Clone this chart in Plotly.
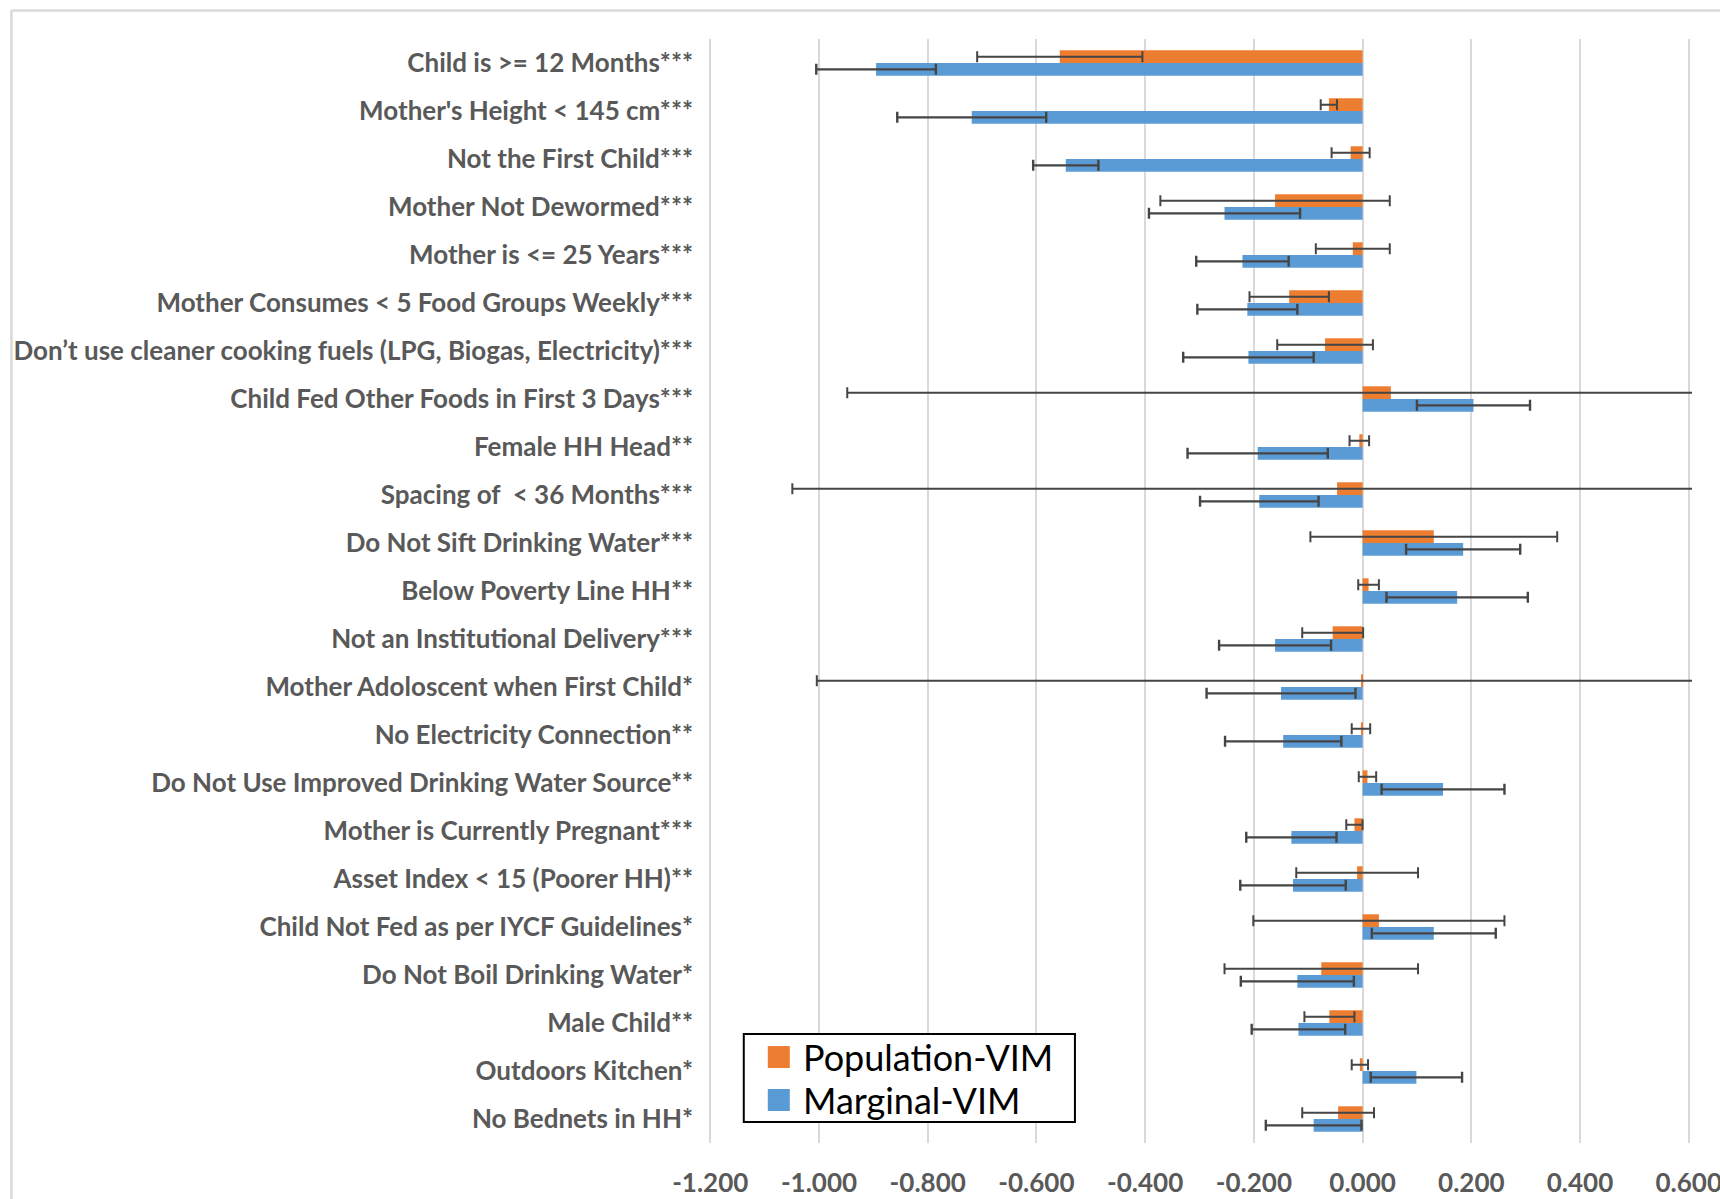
import plotly.graph_objects as go

# Risk factors, listed top to bottom
factors = [
    "Child is >= 12 Months***",
    "Mother's Height < 145 cm***",
    "Not the First Child***",
    "Mother Not Dewormed***",
    "Mother is <= 25 Years***",
    "Mother Consumes < 5 Food Groups Weekly***",
    "Don’t use cleaner cooking fuels (LPG, Biogas, Electricity)***",
    "Child Fed Other Foods in First 3 Days***",
    "Female HH Head**",
    "Spacing of  < 36 Months***",
    "Do Not Sift Drinking Water***",
    "Below Poverty Line HH**",
    "Not an Institutional Delivery***",
    "Mother Adoloscent when First Child*",
    "No Electricity Connection**",
    "Do Not Use Improved Drinking Water Source**",
    "Mother is Currently Pregnant***",
    "Asset Index < 15 (Poorer HH)**",
    "Child Not Fed as per IYCF Guidelines*",
    "Do Not Boil Drinking Water*",
    "Male Child**",
    "Outdoors Kitchen*",
    "No Bednets in HH*",
]

population_vim = [-0.557, -0.062, -0.022, -0.161, -0.018, -0.135, -0.069, 0.052,
                  -0.006, -0.047, 0.131, 0.011, -0.055, -0.002, -0.003, 0.009,
                  -0.015, -0.010, 0.030, -0.076, -0.061, -0.005, -0.045]
population_err = [0.152, 0.015, 0.035, 0.211, 0.068, 0.073, 0.088, 1.000,
                  0.018, 1.002, 0.227, 0.019, 0.056, 1.002, 0.017, 0.016,
                  0.015, 0.112, 0.231, 0.178, 0.046, 0.015, 0.066]

marginal_vim = [-0.895, -0.719, -0.546, -0.254, -0.221, -0.212, -0.210, 0.204,
                -0.193, -0.190, 0.185, 0.174, -0.161, -0.150, -0.146, 0.148,
                -0.131, -0.128, 0.131, -0.120, -0.118, 0.099, -0.090]
marginal_err = [0.110, 0.137, 0.060, 0.139, 0.085, 0.092, 0.120, 0.104,
                0.129, 0.109, 0.105, 0.130, 0.103, 0.137, 0.107, 0.113,
                0.083, 0.097, 0.114, 0.104, 0.086, 0.084, 0.088]

x_ticks = [-1.2, -1.0, -0.8, -0.6, -0.4, -0.2, 0.0, 0.2, 0.4, 0.6]
x_tick_text = ["-1.200", "-1.000", "-0.800", "-0.600", "-0.400", "-0.200",
               "0.000", "0.200", "0.400", "0.600"]

ORANGE = "#ED7D31"
BLUE = "#5B9BD5"
ERR = "#454545"
GREY_TXT = "#595959"
FONT = "Lato"

W, H = 1720, 1199
X_MIN, X_MAX = -1.2, 0.6
# pixel span of the -1.2 .. 0.6 scale
X0_PX, X1_PX = 710.5, 1688.5
PX_PER_UNIT = (X1_PX - X0_PX) / (X_MAX - X_MIN)
# small padding so the end gridlines are kept
EPS = 0.006
L = X0_PX - EPS * PX_PER_UNIT
R = X1_PX + EPS * PX_PER_UNIT
T, B = 38.5, 1143.0


def px_x(px):
    return (px - L) / (R - L)


def px_y(py):
    return (B - py) / (B - T)


fig = go.Figure()
fig.add_trace(go.Bar(
    y=factors, x=population_vim, orientation="h", name="Population-VIM",
    marker=dict(color=ORANGE, line=dict(width=0)),
    error_x=dict(type="data", array=population_err, color=ERR,
                 thickness=2.0, width=5.5),
))
fig.add_trace(go.Bar(
    y=factors, x=marginal_vim, orientation="h", name="Marginal-VIM",
    marker=dict(color=BLUE, line=dict(width=0)),
    error_x=dict(type="data", array=marginal_err, color=ERR,
                 thickness=2.4, width=5.5),
))

shapes = [
    # outer chart frame (top and left edges)
    dict(type="line", xref="paper", yref="paper",
         x0=px_x(12), x1=px_x(1725), y0=px_y(10), y1=px_y(10),
         line=dict(color="#D9D9D9", width=2.5)),
    dict(type="line", xref="paper", yref="paper",
         x0=px_x(12), x1=px_x(12), y0=px_y(10), y1=px_y(1205),
         line=dict(color="#D9D9D9", width=2.5)),
    # legend box and swatches
    dict(type="rect", xref="paper", yref="paper",
         x0=px_x(744), x1=px_x(1075), y0=px_y(1034), y1=px_y(1122),
         line=dict(color="black", width=2), fillcolor="white", layer="above"),
    dict(type="rect", xref="paper", yref="paper",
         x0=px_x(768), x1=px_x(790), y0=px_y(1046), y1=px_y(1068),
         line=dict(width=0), fillcolor=ORANGE, layer="above"),
    dict(type="rect", xref="paper", yref="paper",
         x0=px_x(768), x1=px_x(790), y0=px_y(1089), y1=px_y(1111),
         line=dict(width=0), fillcolor=BLUE, layer="above"),
]

annotations = [
    dict(text="Population-VIM", xref="paper", yref="paper",
         x=px_x(801), y=px_y(1057), xanchor="left", yanchor="middle",
         showarrow=False, font=dict(family=FONT, size=36, color="black")),
    dict(text="Marginal-VIM", xref="paper", yref="paper",
         x=px_x(801), y=px_y(1100), xanchor="left", yanchor="middle",
         showarrow=False, font=dict(family=FONT, size=36, color="black")),
]

fig.update_layout(
    width=W, height=H,
    margin=dict(l=L, r=W - R, t=T, b=H - B, pad=0, autoexpand=False),
    paper_bgcolor="white", plot_bgcolor="white",
    barmode="group", bargap=0.47, bargroupgap=0,
    showlegend=False,
    shapes=shapes, annotations=annotations,
    xaxis=dict(
        range=[X_MIN - EPS, X_MAX + EPS], tickvals=x_ticks, ticktext=x_tick_text,
        showgrid=True, gridcolor="#D9D9D9", gridwidth=2,
        zeroline=False, showline=False, ticks="", automargin=False,
        ticklabelstandoff=22, ticklabeloverflow="allow",
        tickfont=dict(family=FONT, size=26, color=GREY_TXT, weight="bold"),
    ),
    yaxis=dict(
        type="category", categoryorder="array", categoryarray=factors,
        range=[len(factors) - 0.5, -0.5],
        showgrid=False, zeroline=False, showline=False, ticks="",
        automargin=False, ticklabelstandoff=13,
        tickfont=dict(family=FONT, size=26, color=GREY_TXT, weight="bold"),
    ),
)

fig.write_html("out.html")
